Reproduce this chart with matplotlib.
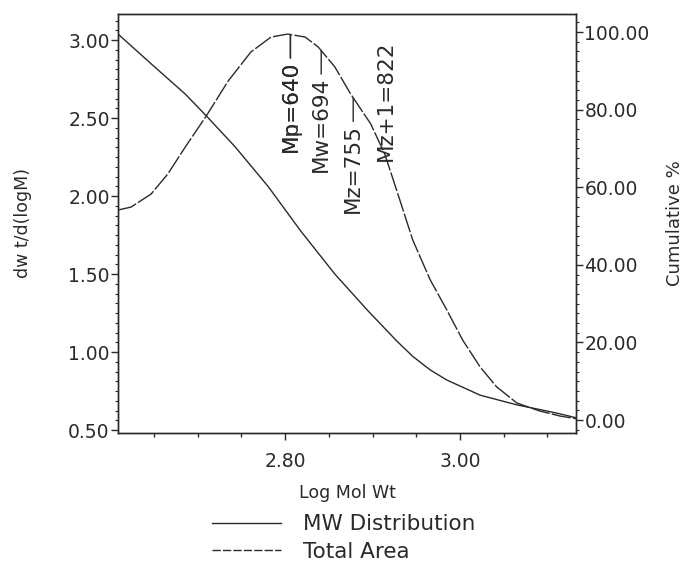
import matplotlib
matplotlib.use("Agg")
import matplotlib.pyplot as plt
import numpy as np
from matplotlib.lines import Line2D
from matplotlib.ticker import MultipleLocator, FixedLocator, FormatStrFormatter

# ---------------- data ----------------
dist_logm = [2.609, 2.624, 2.647, 2.666, 2.686, 2.710, 2.735, 2.761, 2.784, 2.803,
             2.823, 2.838, 2.857, 2.875, 2.898, 2.914, 2.929, 2.946, 2.966, 2.985,
             3.003, 3.023, 3.042, 3.065, 3.091, 3.114, 3.134]
dist_vals = [1.910, 1.929, 2.013, 2.141, 2.314, 2.513, 2.737, 2.923, 3.019, 3.038,
             3.019, 2.955, 2.827, 2.654, 2.462, 2.269, 2.013, 1.718, 1.462, 1.269,
             1.077, 0.904, 0.776, 0.673, 0.622, 0.590, 0.571]

cum_logm = [2.609, 2.647, 2.686, 2.710, 2.743, 2.781, 2.818, 2.857, 2.895, 2.928,
            2.946, 2.966, 2.985, 3.023, 3.065, 3.091, 3.114, 3.134]
cum_vals = [99.5, 91.8, 84.0, 78.4, 70.4, 60.1, 48.7, 37.6, 28.1, 20.3,
            16.4, 12.9, 10.3, 6.4, 3.9, 2.7, 1.6, 0.5]

mark_names = ["Mn", "Mp", "Mw", "Mz", "Mz+1"]
mark_values = [640, 640, 694, 755, 822]

x_ticks = [2.80, 3.00]
left_ticks = [0.50, 1.00, 1.50, 2.00, 2.50, 3.00]
right_ticks = [0.0, 20.0, 40.0, 60.0, 80.0, 100.0]

x_label = "Log Mol Wt"
left_label = "dw t/d(logM)"
right_label = "Cumulative %"
legend_labels = ["MW Distribution", "Total Area"]

# ---------------- figure ----------------
W, H = 687, 566
fig = plt.figure(figsize=(W / 100, H / 100), dpi=100)
L, R, T, B = 118, 576, 14, 433
ax = fig.add_axes([L / W, 1 - B / H, (R - L) / W, (B - T) / H])
ax2 = ax.twinx()

lc = "#2a2a2a"
ax.plot(dist_logm, dist_vals, color=lc, lw=1.0, ls=(0, (14, 1.6)))
ax2.plot(cum_logm, cum_vals, color=lc, lw=1.0)

ax.set_xlim(2.6091, 3.1326)
ax.set_ylim(0.5 - 3 / 156, 3.0 + 26 / 156)
ax2.set_ylim(-13 / 3.88, 100 + 18 / 3.88)

tick_fs = 13.5
ax.xaxis.set_major_locator(FixedLocator(x_ticks))
ax.xaxis.set_minor_locator(MultipleLocator(0.05))
ax.xaxis.set_major_formatter(FormatStrFormatter("%.2f"))
ax.yaxis.set_major_locator(FixedLocator(left_ticks))
ax.yaxis.set_minor_locator(MultipleLocator(0.0625))
ax.yaxis.set_major_formatter(FormatStrFormatter("%.2f"))
ax2.yaxis.set_major_locator(FixedLocator(right_ticks))
ax2.yaxis.set_minor_locator(MultipleLocator(2.5))
ax2.yaxis.set_major_formatter(FormatStrFormatter("%.2f"))

ax.tick_params(axis="x", which="major", length=5, width=1, pad=9, labelsize=tick_fs, colors=lc)
ax.tick_params(axis="x", which="minor", length=3, width=1, colors=lc)
ax.tick_params(axis="y", which="major", length=5, width=1, pad=1, labelsize=tick_fs, colors=lc)
ax.tick_params(axis="y", which="minor", length=2.5, width=0.8, colors=lc)
ax2.tick_params(axis="y", which="major", length=5, width=1, pad=1, labelsize=tick_fs, colors=lc)
ax2.tick_params(axis="y", which="minor", length=2.5, width=0.8, colors=lc)

for a in (ax, ax2):
    for s in a.spines.values():
        s.set_color(lc)
        s.set_linewidth(1.0)

ax.set_xlabel(x_label, fontsize=12.5, color=lc, labelpad=9)
ax.set_ylabel(left_label, fontsize=12.5, color=lc, labelpad=26)
ax2.set_ylabel(right_label, fontsize=13, color=lc, labelpad=12)

# ---------------- molecular weight markers ----------------
ann_fs = 15.5
for name, mv in zip(mark_names, mark_values):
    lx = np.log10(mv)
    ly = float(np.interp(lx, dist_logm, dist_vals))
    if name == "Mz+1":
        ax.annotate(f"{name}={mv}", xy=(lx, ly), xytext=(0, -3), textcoords="offset points",
                    rotation=90, ha="center", va="bottom", fontsize=ann_fs, color=lc)
    else:
        ax.annotate(f"{name}={mv}", xy=(lx, ly), xytext=(0, -19), textcoords="offset points",
                    rotation=90, ha="center", va="top", fontsize=ann_fs, color=lc,
                    arrowprops=dict(arrowstyle="-", color=lc, lw=1.0,
                                    shrinkA=0, shrinkB=0))

# ---------------- legend ----------------
handles = [Line2D([], [], color=lc, lw=1.0),
           Line2D([], [], color=lc, lw=1.0, ls=(0, (6, 1.5)))]
fig.legend(handles, legend_labels, loc="upper left", bbox_to_anchor=(193 / W, 1 - 495 / H),
           frameon=False, fontsize=15.5, handlelength=3.2, handletextpad=1.0,
           labelspacing=0.35, labelcolor=lc)

fig.savefig("out.png", dpi=100, facecolor="white")
